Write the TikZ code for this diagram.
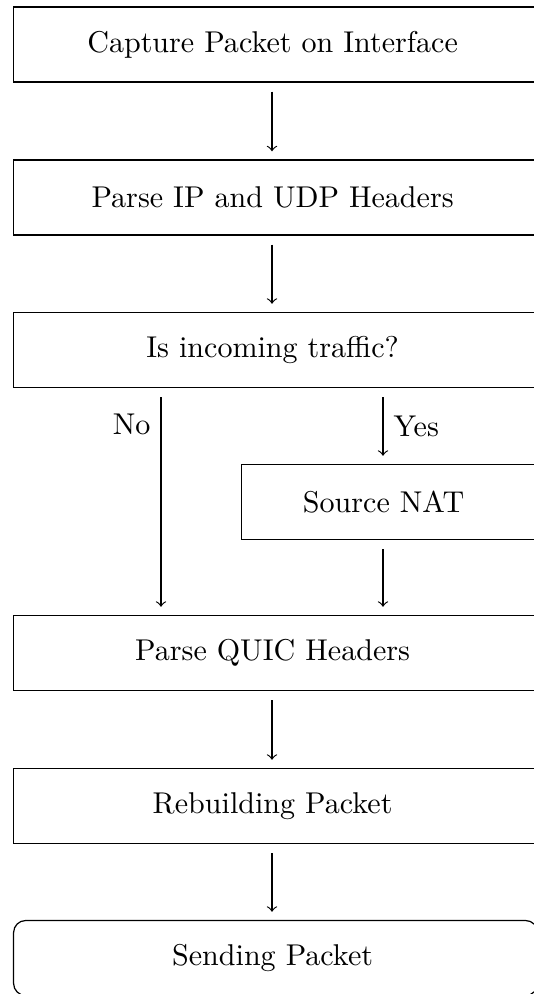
\documentclass[tikz,border=0pt]{standalone}
\usepackage{tikz}
\newlength\pxu
\setlength\pxu{0.3326pt}
\tikzset{
  stepbox/.style={draw, rectangle, anchor=west, inner xsep=0pt,
    minimum height=75\pxu},
  endbox/.style={stepbox, rounded corners=4pt},
  flow/.style={->, shorten <=3pt, shorten >=2.7pt},
}
% box text centred on a given width, inside a wider left-aligned box
\newcommand\boxtext[3]{\makebox[#2\pxu][l]{\makebox[#1\pxu]{#3}}}
\begin{document}
\begin{tikzpicture}[x=\pxu, y=-\pxu]
  \useasboundingbox (0,0) rectangle (534,994);
  \clip (0,0) rectangle (534,994);

  \coordinate (mid)   at (272,0);
  \coordinate (left)  at (161,0);
  \coordinate (right) at (383,0);

  \node[stepbox] (capture) at (13,44.5) {\boxtext{518}{524}{Capture Packet on Interface}};
  \node[stepbox] (parseip) at (13,197.5) {\boxtext{518}{524}{Parse IP and UDP Headers}};
  \node[stepbox] (incoming) at (13,350) {\boxtext{518}{524}{Is incoming traffic?}};
  \node[stepbox] (snat) at (241,502) {\boxtext{284}{296}{Source NAT}};
  \node[stepbox] (quic) at (13,653) {\boxtext{518}{524}{Parse QUIC Headers}};
  \node[stepbox] (rebuild) at (13,806) {\boxtext{518}{524}{Rebuilding Packet}};
  \node[endbox] (send) at (13,958) {\boxtext{518}{524}{Sending Packet}};

  \draw[flow] (capture.south -| mid) -- (parseip.north -| mid);
  \draw[flow] (parseip.south -| mid) -- (incoming.north -| mid);
  \draw[flow] (incoming.south -| left) -- node[pos=0.16, left] {No} (quic.north -| left);
  \draw[flow] (incoming.south -| right) -- node[midway, right] {Yes} (snat.north -| right);
  \draw[flow] (snat.south -| right) -- (quic.north -| right);
  \draw[flow] (quic.south -| mid) -- (rebuild.north -| mid);
  \draw[flow] (rebuild.south -| mid) -- (send.north -| mid);
\end{tikzpicture}
\end{document}
